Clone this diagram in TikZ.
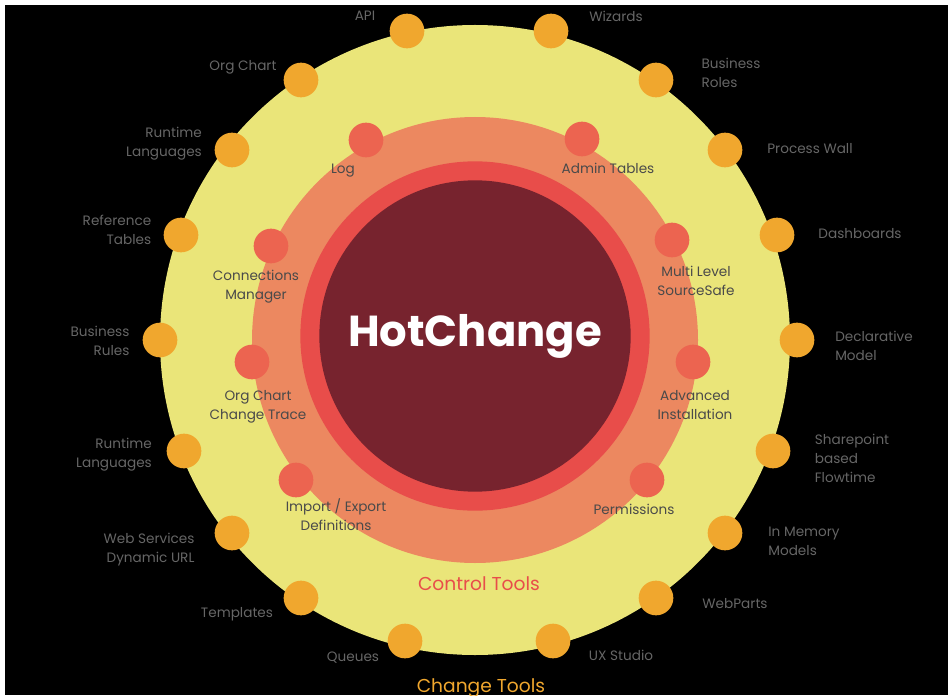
\documentclass[tikz,border=0pt]{standalone}
\usepackage{fontspec}
\setmainfont{Poppins}
\definecolor{yellowring}{HTML}{EAE579}
\definecolor{orangering}{HTML}{EC8860}
\definecolor{redring}{HTML}{E84D4A}
\definecolor{darkcore}{HTML}{77232E}
\definecolor{outerdot}{HTML}{F0A72E}
\definecolor{innerdot}{HTML}{EC6450}
\definecolor{outertext}{HTML}{666666}
\definecolor{innertext}{HTML}{4A4A4A}
\tikzset{
  ring/.style = {circle, inner sep=0pt, outer sep=0pt},
  outer/.style = {ring, fill=outerdot, minimum size=26pt},
  inner/.style = {ring, fill=innerdot, minimum size=26pt},
  outerlabel/.style = {align=center, text=outertext, font=\fontsize{10.2}{14.2}\selectfont, inner sep=0pt},
  innerlabel/.style = {align=center, text=innertext, font=\fontsize{10.2}{14.2}\selectfont, inner sep=0pt},
}
\begin{document}
\begin{tikzpicture}[x=0.75pt,y=-0.75pt]
\useasboundingbox (0,0) rectangle (948,695);
\fill[white] (0,0) rectangle (948,695);
\fill[black] (5,5) rectangle (948,695);
% rings
\node[ring,fill=yellowring,minimum size=472.5pt] (yellow) at (475,340) {};
\node[ring,fill=orangering,minimum size=334.5pt] (orange) at (475,340) {};
\node[ring,fill=redring,minimum size=262pt] (red) at (475,336) {};
\node[ring,fill=darkcore,minimum size=233.5pt] (core) at (475,336) {};
\node[text=white,font=\fontsize{32.5}{36}\selectfont\bfseries,inner sep=0pt] (title) at (475,336) {HotChange};
% outer dots
\node[outer] (api) at (407,31) {};
\node[outer] (wizards) at (551,31) {};
\node[outer] (orgchart) at (301,80) {};
\node[outer] (roles) at (656,80) {};
\node[outer] (runtimeA) at (232,150) {};
\node[outer] (wall) at (725,150) {};
\node[outer] (reference) at (181,235) {};
\node[outer] (dashboards) at (777,235) {};
\node[outer] (rules) at (160,340) {};
\node[outer] (declarative) at (797,340) {};
\node[outer] (runtimeB) at (184,451) {};
\node[outer] (sharepoint) at (773,451) {};
\node[outer] (webservices) at (232,533) {};
\node[outer] (memory) at (725,533) {};
\node[outer] (templates) at (301,598) {};
\node[outer] (webparts) at (656,598) {};
\node[outer] (queues) at (405,641) {};
\node[outer] (studio) at (553,641) {};
% outer labels
\node[outerlabel] (apitext) at (365,16) {API};
\node[outerlabel] (wizardstext) at (616,16) {Wizards};
\node[outerlabel] (orgcharttext) at (243,67) {Org Chart};
\node[outerlabel,align=left] (rolestext) at (731,73) {Business\\Roles};
\node[outerlabel,align=right] (runtimeAtext) at (164,144) {Runtime\\Languages};
\node[outerlabel] (walltext) at (810,149) {Process Wall};
\node[outerlabel,align=right] (referencetext) at (117,230) {Reference\\Tables};
\node[outerlabel] (dashboardstext) at (860,234) {Dashboards};
\node[outerlabel,align=right] (rulestext) at (100,341) {Business\\Rules};
\node[outerlabel,align=left] (declarativetext) at (874,346) {Declarative\\Model};
\node[outerlabel,align=right] (runtimeBtext) at (114,455) {Runtime\\Languages};
\node[outerlabel,align=left] (sharepointtext) at (852,458) {Sharepoint\\based\\Flowtime};
\node[outerlabel,align=right] (webservicestext) at (149,550) {Web Services\\Dynamic URL};
\node[outerlabel,align=left] (memorytext) at (804,541) {In Memory\\Models};
\node[outerlabel] (templatestext) at (237,614) {Templates};
\node[outerlabel] (webpartstext) at (735,604) {WebParts};
\node[outerlabel] (queuestext) at (353,658) {Queues};
\node[outerlabel] (studiotext) at (621,655) {UX Studio};
% inner dots
\node[inner] (log) at (366,140) {};
\node[inner] (admin) at (582,139) {};
\node[inner] (connections) at (271,246) {};
\node[inner] (multi) at (672,240) {};
\node[inner] (trace) at (252,362) {};
\node[inner] (advanced) at (693,362) {};
\node[inner] (import) at (296,480) {};
\node[inner] (permissions) at (647,480) {};
% inner labels
\node[innerlabel] (logtext) at (343,171) {Log};
\node[innerlabel] (admintext) at (608,168) {Admin Tables};
\node[innerlabel] (connectionstext) at (256,287) {Connections\\Manager};
\node[innerlabel] (multitext) at (696,281) {Multi Level\\SourceSafe};
\node[innerlabel] (tracetext) at (258,407) {Org Chart\\Change Trace};
\node[innerlabel] (advancedtext) at (695,405) {Advanced\\Installation};
\node[innerlabel] (importtext) at (336,515) {Import  / Export\\Definitions};
\node[innerlabel] (permissionstext) at (634,509) {Permissions};
% ring titles
\node[text=redring,font=\fontsize{14}{16}\selectfont,inner sep=0pt] (controltext) at (479,584) {Control Tools};
\node[text=outerdot,font=\fontsize{14}{16}\selectfont,inner sep=0pt] (changetext) at (481,688) {Change Tools};
\end{tikzpicture}
\end{document}
